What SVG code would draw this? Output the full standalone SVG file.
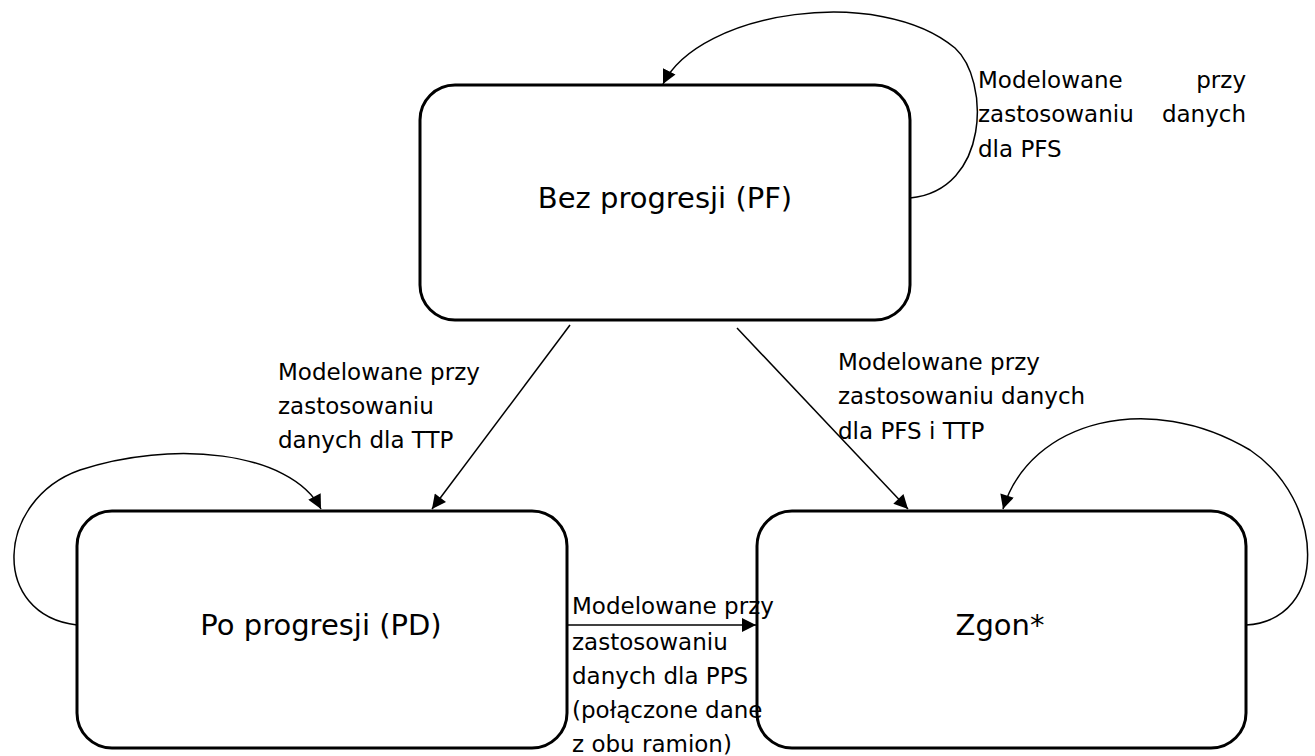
<svg xmlns="http://www.w3.org/2000/svg" width="1315" height="756" viewBox="0 0 1315 756">
<defs>
<style>
.box{fill:#fff;stroke:#000;stroke-width:3}
.lbl{font-family:"DejaVu Sans","Liberation Sans",sans-serif;font-size:29px;fill:#000;text-anchor:middle}
.t{font-family:"DejaVu Sans","Liberation Sans",sans-serif;font-size:23px;fill:#000}
.c{fill:none;stroke:#000;stroke-width:1.5}
</style>
<marker id="ah" viewBox="0 0 10 10" refX="10" refY="5" markerWidth="15" markerHeight="14" markerUnits="userSpaceOnUse" orient="auto">
<path d="M0,0 L10,5 L0,10 z" fill="#000"/>
</marker>
</defs>
<rect width="1315" height="756" fill="#fff"/>
<g id="node-pf">
<rect class="box" x="420" y="85" width="490" height="235" rx="35"/>
<text class="lbl" x="665" y="208">Bez progresji (PF)</text>
</g>
<g id="node-pd">
<rect class="box" x="77" y="511" width="490" height="237" rx="35"/>
<text class="lbl" x="321" y="635">Po progresji (PD)</text>
</g>
<g id="node-zgon">
<rect class="box" x="757" y="511" width="489" height="237" rx="35"/>
<text class="lbl" x="1000" y="635">Zgon*</text>
</g>
<g id="connectors">
<path class="c" marker-end="url(#ah)" d="M910,198 C990,190 990,80 955,48 C880,-15 700,10 663,84"/>
<path class="c" marker-end="url(#ah)" d="M570,325 L432,509"/>
<path class="c" marker-end="url(#ah)" d="M737,328 L908,509"/>
<path class="c" marker-end="url(#ah)" d="M77,625 C-10,615 -5,500 80,470 C170,440 290,450 321,509"/>
<path class="c" marker-end="url(#ah)" d="M567,625 L756,625"/>
<path class="c" marker-end="url(#ah)" d="M1246,625 C1330,620 1325,500 1250,450 C1150,390 1030,420 1003,509"/>
</g>
<g id="labels">
<text class="t" x="978" y="88">Modelowane</text>
<text class="t" x="1246" y="88" text-anchor="end">przy</text>
<text class="t" x="978" y="122">zastosowaniu</text>
<text class="t" x="1246" y="122" text-anchor="end">danych</text>
<text class="t" x="978" y="157">dla PFS</text>
<text class="t" x="278" y="380">Modelowane przy</text>
<text class="t" x="278" y="414">zastosowaniu</text>
<text class="t" x="278" y="448">danych dla TTP</text>
<text class="t" x="838" y="370">Modelowane przy</text>
<text class="t" x="838" y="404">zastosowaniu danych</text>
<text class="t" x="838" y="439">dla PFS i TTP</text>
<text class="t" x="572" y="614">Modelowane przy</text>
<text class="t" x="572" y="650">zastosowaniu</text>
<text class="t" x="572" y="684">danych dla PPS</text>
<text class="t" x="572" y="718">(połączone dane</text>
<text class="t" x="572" y="752">z obu ramion)</text>
</g>
</svg>
